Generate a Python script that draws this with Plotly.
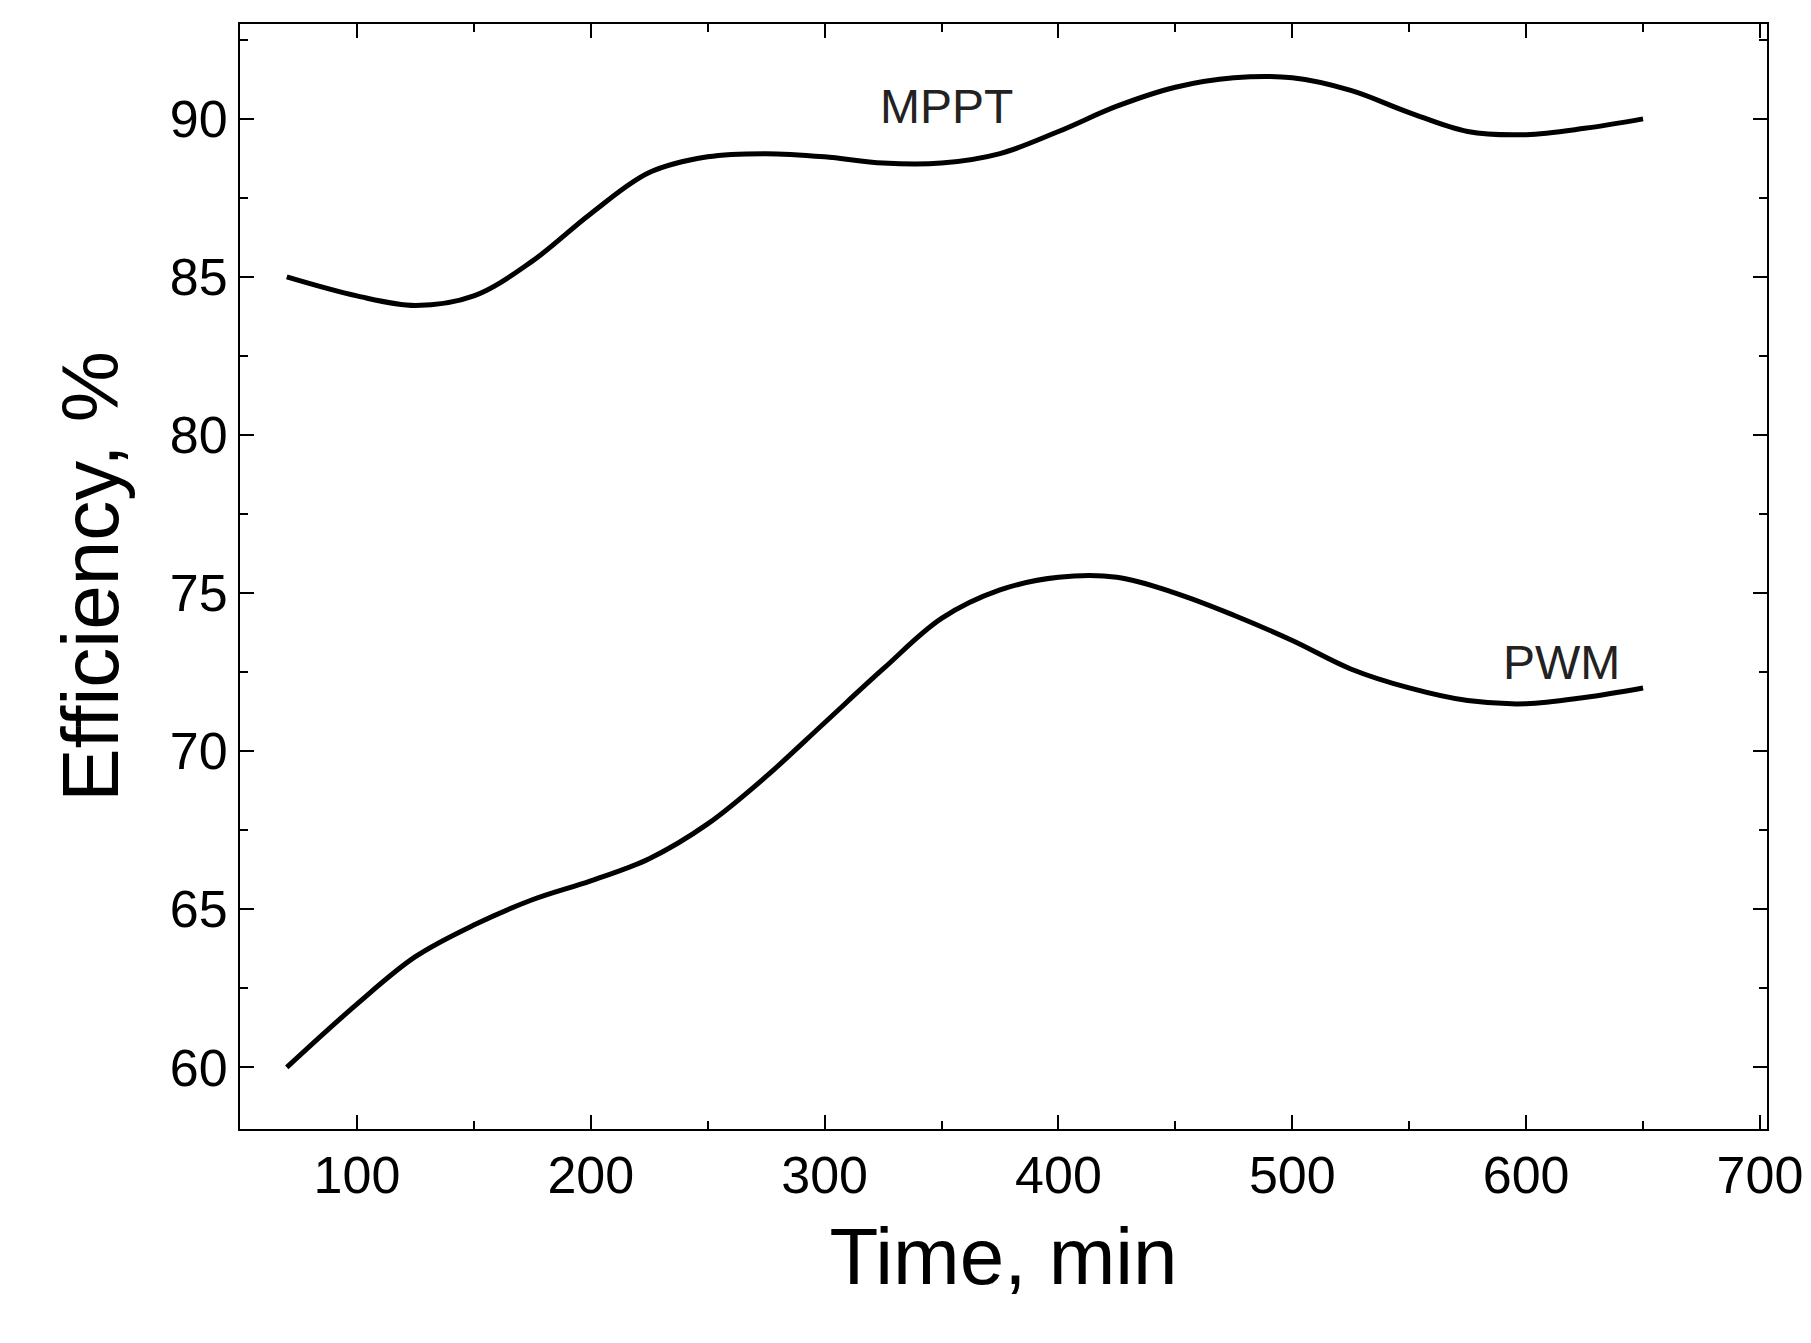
import plotly.graph_objects as go

time_x = [70,100,125,150,175,200,225,250,275,300,325,350,375,400,425,450,475,500,525,550,575,600,625,650]
mppt = [85.0,84.4,84.1,84.4,85.5,87.0,88.3,88.8,88.9,88.8,88.6,88.6,88.9,89.6,90.4,91.0,91.3,91.3,90.9,90.2,89.6,89.5,89.7,90.0]
pwm = [60.0,62.0,63.5,64.5,65.3,65.9,66.6,67.7,69.2,70.9,72.6,74.2,75.1,75.5,75.5,75.0,74.3,73.5,72.6,72.0,71.6,71.5,71.7,72.0]

fig = go.Figure()
for y in (mppt, pwm):
    fig.add_trace(go.Scatter(x=time_x, y=y, mode="lines", line=dict(color="black", width=5, shape="spline"), showlegend=False))

fig.add_annotation(x=352, y=90.4, text="MPPT", showarrow=False, font=dict(size=48, color="#222"))
fig.add_annotation(x=615, y=72.8, text="PWM", showarrow=False, font=dict(size=48, color="#222"))

ax = dict(showgrid=False, zeroline=False, showline=True, linecolor="black", linewidth=2, mirror="allticks",
          ticks="inside", ticklen=14, tickwidth=2, tickcolor="black",
          tickfont=dict(size=52, color="black"),
          minor=dict(ticks="inside", ticklen=8, tickwidth=2, tickcolor="black"))
fig.update_xaxes(**ax, range=[50, 703], dtick=100, tick0=0, minor_dtick=50,
                 title=dict(text="Time, min", font=dict(size=80, color="black"), standoff=25))
fig.update_yaxes(**ax, range=[58.05, 93.0], dtick=5, tick0=0, minor_dtick=2.5,
                 title=dict(text="Efficiency, %", font=dict(size=80, color="black"), standoff=25))
fig.update_layout(width=1811, height=1343, plot_bgcolor="white", paper_bgcolor="white",
                  font=dict(family="Liberation Sans, Arial"),
                  margin=dict(l=232, r=52, t=16, b=222))
fig.write_html("out.html")
